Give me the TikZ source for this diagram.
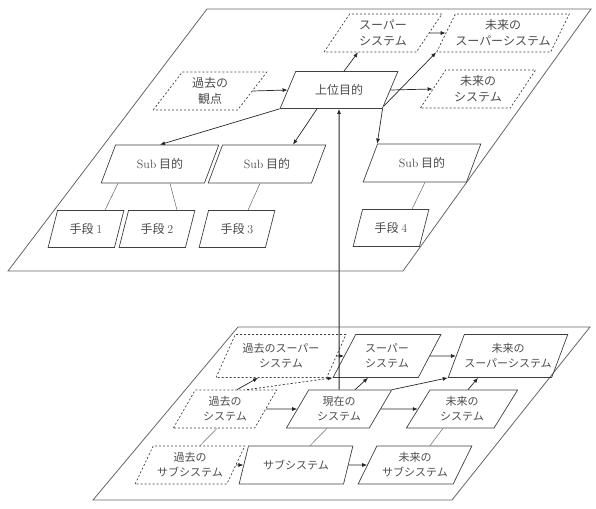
\documentclass[tikz,border=0pt]{standalone}
\usepackage{fontspec}
\newfontfamily\jp{Noto Sans CJK JP}
\usetikzlibrary{shapes.geometric,arrows.meta}

\begin{document}
\begin{tikzpicture}[x=1pt,y=-1pt,
        box/.style={trapezium,draw=black!75,line width=0.7pt,trapezium stretches=true,
            inner sep=0pt,align=center,text=black!70,minimum height=38,
            font=\jp\fontsize{12}{16}\selectfont},
        goalbox/.style={box,trapezium left angle=52,trapezium right angle=128,minimum width=118,minimum height=37},
        subbox/.style={box,trapezium left angle=56,trapezium right angle=124,minimum width=118},
        meansbox/.style={box,trapezium left angle=64,trapezium right angle=116,minimum width=76,minimum height=37},
        viewbox/.style={box,dash pattern=on 2pt off 2pt,trapezium left angle=55,trapezium right angle=125},
        screenbox/.style={box,trapezium left angle=57,trapezium right angle=123,
            font=\jp\fontsize{11}{15}\selectfont},
        pastbox/.style={screenbox,dash pattern=on 2pt off 2pt},
        plane/.style={draw=black!60,line width=0.8pt},
        arr/.style={draw=black!85,line width=0.7pt,-{Latex[length=5pt,width=4pt]}},
        link/.style={draw=black!60,line width=0.5pt}]
            \useasboundingbox (0,0) rectangle (596,508);

            \draw[plane] (207,9) -- (591,9) -- (403,271) -- (8,271) -- cycle;
            \draw[plane] (238,327) -- (590,327) -- (452,500) -- (93,500) -- cycle;

            \node[goalbox] (goal) at (339,90) {上位目的};
            \node[viewbox,minimum width=114] (pastview) at (210,91) {過去の\\観点};
            \node[viewbox,minimum width=118] (supA) at (383,33) {スーパー\\システム};
            \node[viewbox,minimum width=116] (futsupA) at (503,33) {未来の\\スーパーシステム};
            \node[viewbox,minimum width=116] (futsysA) at (478,89) {未来の\\システム};

            \node[subbox] (sub1) at (160,164) {{\rmfamily Sub} 目的};
            \node[subbox] (sub2) at (267,164) {{\rmfamily Sub} 目的};
            \node[subbox] (sub3) at (422,163) {{\rmfamily Sub} 目的};

            \node[meansbox] (means1) at (86,229) {手段 {\rmfamily 1}};
            \node[meansbox] (means2) at (157,229) {手段 {\rmfamily 2}};
            \node[meansbox] (means3) at (237,229) {手段 {\rmfamily 3}};
            \node[meansbox] (means4) at (391,228) {手段 {\rmfamily 4}};

            \draw[arr] (pastview.east) -- (goal.west);
            \draw[arr] ([xshift=5]goal.north) -- ([xshift=-25]supA.south);
            \draw[arr] (goal.-20) -- (futsupA.bottom left corner);
            \draw[arr] (goal.east) -- (futsysA.west);
            \draw[arr] (supA.east) -- (futsupA.west);
            \draw[arr] (goal.bottom left corner) -- (sub1.north);
            \draw[arr] ([xshift=-22]goal.south) -- ([xshift=26]sub2.north);
            \draw[arr] (goal.bottom right corner) -- (sub3.top left corner);

            \draw[link] ([xshift=-42]sub1.south) -- ([xshift=19]means1.north);
            \draw[link] ([xshift=10]sub1.south) -- ([xshift=20]means2.north);
            \draw[link] ([xshift=-7]sub2.south) -- ([xshift=11]means3.north);
            \draw[link] ([xshift=3]sub3.south) -- ([xshift=21]means4.north);

            \node[pastbox,minimum width=130,minimum height=43] (pastsup) at (281,356) {過去のスーパー\\システム};
            \node[screenbox,minimum width=108,minimum height=43] (supB) at (387,356) {スーパー\\システム};
            \node[screenbox,minimum width=112,minimum height=43] (futsupB) at (508,356) {未来の\\スーパーシステム};

            \node[pastbox,minimum width=104] (pastsys) at (225,409) {過去の\\システム};
            \node[screenbox,minimum width=106] (cursys) at (339,409) {現在の\\システム};
            \node[screenbox,minimum width=112] (futsysB) at (462,409) {未来の\\システム};

            \node[pastbox,minimum width=110] (pastsub) at (190,465) {過去の\\サブシステム};
            \node[screenbox,minimum width=114] (subsys) at (296,465) {サブシステム};
            \node[screenbox,minimum width=114] (futsub) at (415,465) {未来の\\サブシステム};

            \draw[arr] (pastsup.east) -- (supB.west);
            \draw[arr] (supB.east) -- (futsupB.west);
            \draw[arr] (pastsys.east) -- (cursys.west);
            \draw[arr] (cursys.east) -- (futsysB.west);
            \draw[arr] (pastsub.east) -- (subsys.west);
            \draw[arr] (subsys.east) -- (futsub.west);

            \draw[arr] ([xshift=12]pastsys.north) -- ([xshift=-23]pastsup.south);
            \draw[arr] ([xshift=16]cursys.north) -- ([xshift=-19]supB.south);
            \draw[arr] ([xshift=6]futsysB.north) -- ([xshift=-30]futsupB.south);
            \draw[arr,dash pattern=on 2pt off 2pt] ([xshift=22]pastsys.north) -- (supB.bottom left corner);
            \draw[arr] (cursys.top right corner) -- (futsupB.bottom left corner);

            \draw[link] ([xshift=10]pastsub.north) -- ([xshift=-8]pastsys.south);
            \draw[link] ([xshift=14]subsys.north) -- ([xshift=-12]cursys.south);
            \draw[link] ([xshift=15]futsub.north) -- ([xshift=-19]futsysB.south);

            \draw[arr,line width=1pt] (cursys.north) -- (goal.south);
\end{tikzpicture}
\end{document}
